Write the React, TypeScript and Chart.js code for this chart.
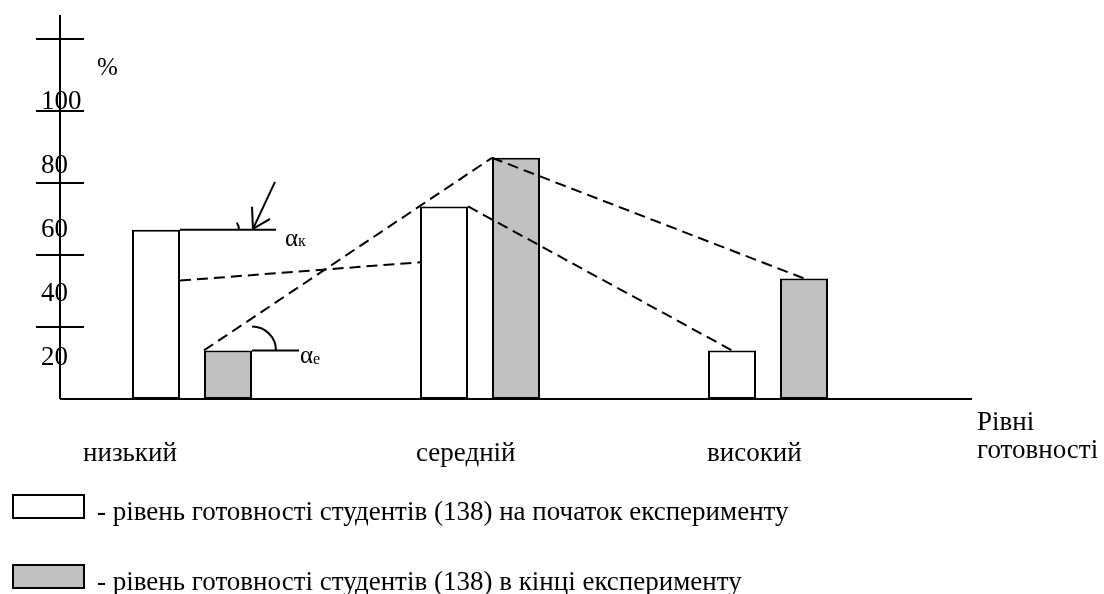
import React, { useEffect, useRef } from 'react';
import { Chart, registerables } from 'chart.js';

Chart.register(...registerables);

// ---- data ----
const categories = ['низький', 'середній', 'високий'];
const startValues = [47, 53.5, 13.5]; // на початок експерименту
const endValues = [13.5, 67, 33.5]; // в кінці експерименту
const yTickValues = [20, 40, 60, 80, 100];
const yTickLabels = ['20', '40', '60', '80', '100'];
const seriesLabels = [
  '- рівень готовності студентів (138) на початок експерименту',
  '- рівень готовності студентів (138) в кінці експерименту',
];
const xAxisTitle = ['Рівні', 'готовності'];
const yAxisTitle = '%';
const angleLabels = ['α', 'к', 'α', 'е'];

const FONT = '"Liberation Serif", "Times New Roman", serif';

const overlayPlugin = {
  id: 'overlay',
  afterDatasetsDraw(chart: any) {
    const ctx = chart.ctx as CanvasRenderingContext2D;
    const xs = chart.scales.x;
    const ys = chart.scales.y;
    const { left, right, top } = chart.chartArea;
    const base = ys.getPixelForValue(0);
    const props = (i: number) =>
      chart.getDatasetMeta(i).data.map((b: any) => b.getProps(['x', 'y', 'width', 'base'], true));
    const white = props(0);
    const gray = props(1);

    const line = (x1: number, y1: number, x2: number, y2: number) => {
      ctx.beginPath();
      ctx.moveTo(x1, y1);
      ctx.lineTo(x2, y2);
      ctx.stroke();
    };

    ctx.save();
    ctx.strokeStyle = '#000';
    ctx.fillStyle = '#000';
    ctx.lineWidth = 2;
    ctx.textAlign = 'left';
    ctx.textBaseline = 'alphabetic';

    // y tick labels (set slightly below their tick marks, as in the source)
    ctx.font = `27px ${FONT}`;
    yTickValues.forEach((v, i) => {
      ctx.fillText(yTickLabels[i], left - 19, base + 30 - v * 3.2);
    });
    ctx.font = `25px ${FONT}`;
    ctx.fillText(yAxisTitle, left + 37, top + 60);

    // axes
    line(left, top, left, base);
    line(left, base, right, base);
    yTickValues.forEach((v) => {
      const y = ys.getPixelForValue(v);
      line(left - 24, y, left + 24, y);
    });

    // category labels
    const labelShift = [-109, -64, -61];
    ctx.font = `27px ${FONT}`;
    categories.forEach((c, i) => {
      ctx.fillText(c, xs.getPixelForValue(i) + labelShift[i], base + 62);
    });
    ctx.fillText(xAxisTitle[0], right + 5, base + 31);
    ctx.fillText(xAxisTitle[1], right + 5, base + 59);

    // dashed connecting lines
    const h = (b: any, f: number) => b.base - f * (b.base - b.y);
    ctx.setLineDash([11, 6]);
    line(white[0].x + white[0].width / 2, h(white[0], 0.7), white[1].x - white[1].width / 2, h(white[1], 0.71));
    line(gray[0].x - gray[0].width / 2, gray[0].y, gray[1].x - gray[1].width / 2, gray[1].y);
    line(white[1].x + white[1].width / 2, white[1].y, white[2].x, white[2].y);
    line(gray[1].x - gray[1].width / 2, gray[1].y, gray[2].x, gray[2].y);
    ctx.setLineDash([]);

    // angle αк
    const ax = white[0].x + white[0].width / 2;
    const ay = white[0].y;
    line(ax, ay, ax + 96, ay);
    ctx.beginPath();
    ctx.arc(ax + 46, ay, 13, -0.6, 0);
    ctx.stroke();
    line(ax + 95, ay - 48, ax + 73, ay - 1);
    line(ax + 73, ay - 1, ax + 72, ay - 23);
    line(ax + 73, ay - 1, ax + 90, ay - 11);
    ctx.font = `25px ${FONT}`;
    ctx.fillText(angleLabels[0], ax + 105, ay + 16);
    ctx.font = `16px ${FONT}`;
    ctx.fillText(angleLabels[1], ax + 118, ay + 16);

    // angle αе
    const ex = gray[0].x + gray[0].width / 2;
    const ey = gray[0].y;
    line(ex, ey, ex + 47, ey);
    ctx.beginPath();
    ctx.arc(ex, ey, 24, -Math.PI / 2, 0);
    ctx.stroke();
    ctx.font = `25px ${FONT}`;
    ctx.fillText(angleLabels[2], ex + 48, ey + 13);
    ctx.font = `16px ${FONT}`;
    ctx.fillText(angleLabels[3], ex + 61, ey + 14);

    // legend
    ctx.font = `27px ${FONT}`;
    chart.data.datasets.forEach((ds: any, i: number) => {
      const by = 495 + i * 70;
      ctx.fillStyle = ds.backgroundColor;
      ctx.fillRect(13, by, 71, 23);
      ctx.strokeRect(13, by, 71, 23);
      ctx.fillStyle = '#000';
      ctx.fillText(ds.label, 97, by + 25);
    });

    ctx.restore();
  },
};

export default function App() {
  const canvasRef = useRef<HTMLCanvasElement | null>(null);

  useEffect(() => {
    document.body.style.margin = '0';
    const canvas = canvasRef.current;
    if (!canvas) return;
    const chart = new Chart(canvas, {
      type: 'bar',
      data: {
        datasets: [
          {
            label: seriesLabels[0],
            data: categories.map((_, i) => ({ x: i, y: startValues[i] })),
            backgroundColor: '#ffffff',
            borderColor: '#000000',
            borderWidth: 2,
            borderSkipped: false,
          },
          {
            label: seriesLabels[1],
            data: categories.map((_, i) => ({ x: i, y: endValues[i] })),
            backgroundColor: '#c0c0c0',
            borderColor: '#000000',
            borderWidth: 2,
            borderSkipped: false,
          },
        ],
      },
      options: {
        responsive: false,
        animation: false,
        devicePixelRatio: 1,
        categoryPercentage: 0.5,
        barPercentage: 2 / 3,
        layout: { padding: { left: 60, right: 132, top: 15, bottom: 195 } },
        plugins: { legend: { display: false }, tooltip: { enabled: false } },
        scales: {
          x: {
            type: 'linear',
            display: false,
            offset: false,
            bounds: 'data',
            grace: 0,
            min: -0.4583,
            max: 2.7083,
            afterBuildTicks: (scale: any) => {
              scale.ticks = categories.map((_, i) => ({ value: i }));
            },
          },
          y: {
            type: 'linear',
            display: false,
            min: 0,
            max: 106.667,
          },
        },
      },
      plugins: [overlayPlugin],
    } as any);
    return () => chart.destroy();
  }, []);

  return (
    <div style={{ position: 'fixed', left: 0, top: 0, width: 1104, height: 594, background: '#fff' }}>
      <canvas ref={canvasRef} width={1104} height={594} style={{ display: 'block' }} />
    </div>
  );
}
